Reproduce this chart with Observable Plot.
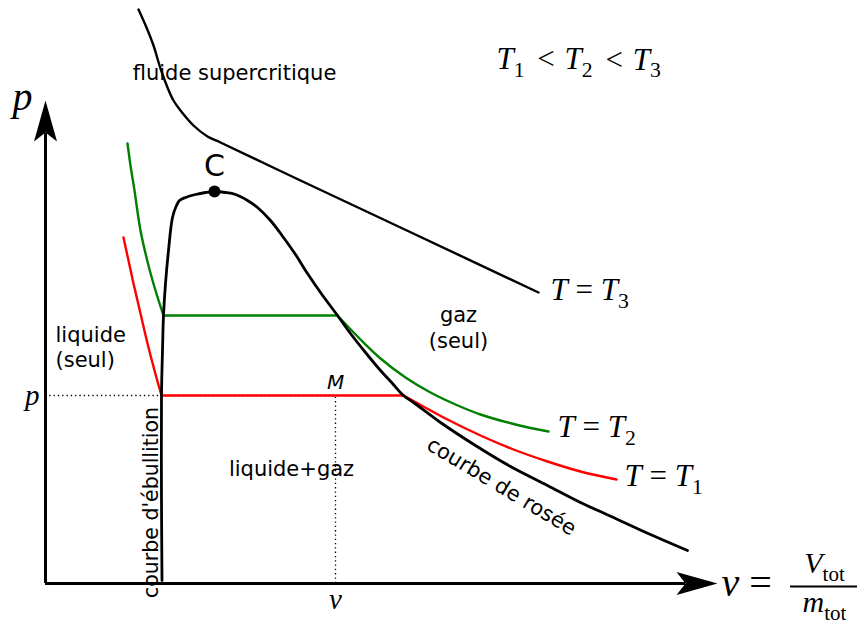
<!DOCTYPE html>
<html><head><meta charset="utf-8">
<script src="https://cdn.jsdelivr.net/npm/d3@7"></script>
<script src="https://cdn.jsdelivr.net/npm/@observablehq/plot@0.6"></script>
<style>body{margin:0;background:#fff}</style>
</head><body><div id="chart"></div>
<script>
// ---- data: points [v, p] in arbitrary units ----
const saturationCurve = [[11.65,0.3],[11.6,8.3],[11.6,18.8],[11.7,23.3],[11.8,26.8],[12.0,30.0],[12.3,33.3],[12.7,36.6],[13.1,37.8],[13.4,38.3],[14.0,38.6],[15.0,38.9],[16.0,39.1],[16.9,39.2],
  [18.0,39.1],[19.0,38.9],[20.2,38.3],[21.2,37.6],[22.5,36.3],[23.8,34.6],[25.0,32.9],[26.2,31.0],[27.5,29.1],[29.2,26.8],[30.5,25.0],[32.0,23.1],[33.5,21.3],[34.7,20.0],[35.8,18.8],
  [36.8,18.1],[39.5,16.1],[43.0,13.8],[46.5,11.7],[50.2,9.8],[53.5,8.1],[56.8,6.6],[60.5,4.9],[64.2,3.3]];

const T1_liquid = [[7.8,34.6],[8.3,32.3],[8.8,30.0],[9.5,27.0],[10.2,24.0],[10.9,21.3],[11.6,18.8]];
const T1_plateau = [[11.6,18.8],[35.8,18.8]];
const T1_gas = [[35.8,18.8],[36.8,18.25],[40.2,16.4],[43.5,14.8],[46.8,13.4],[50.2,12.2],[53.5,11.2],[57.1,10.4]];

const T2_liquid = [[8.2,44.0],[8.5,41.8],[8.9,39.3],[9.5,35.3],[10.3,31.8],[11.0,29.3],[11.8,26.8]];
const T2_plateau = [[11.8,26.8],[29.2,26.8]];
const T2_gas = [[29.2,26.8],[31.5,24.4],[33.5,22.5],[36.0,20.6],[38.5,19.1],[41.0,17.9],[43.5,16.9],[47.0,15.9],[50.3,15.2]];

const T3_curve = [[9.3,57.4],[10.1,55.6],[10.8,53.8],[11.5,51.5],[12.2,49.6],[12.8,48.3],[13.5,47.3],[14.8,45.8],[16.2,44.7],[17.5,44.1],[25.5,40.3],[35.5,35.6],[49.3,29.1]];

const criticalPoint = [[16.9,39.2]];
const pointM = {v:29.0, p:18.8};

// ---- labels ----
const centeredLabels = [
  {v:18.9, p:51.0, t:"fluide supercritique"},
  {v:41.3, p:26.8, t:"gaz"},
  {v:41.3, p:24.2, t:"(seul)"},
  {v:24.6, p:11.4, t:"liquide+gaz"}
];
const startLabels = [
  {v:1.0, p:24.8, t:"liquide"},
  {v:1.0, p:22.3, t:"(seul)"}
];
const mathLabels = [
  {v:50.5, p:29.3, t:"T = T_3"},
  {v:51.2, p:15.6, t:"T = T_2"},
  {v:57.9, p:10.7, t:"T = T_1"},
  {v:45.1, p:52.4, t:"T_1 < T_2 < T_3"}
];

const xy = {x: d => d[0], y: d => d[1]};
const stealth = {draw(ctx) { ctx.moveTo(0,0); ctx.lineTo(-11.5,41); ctx.lineTo(0,32); ctx.lineTo(11.5,41); ctx.closePath(); }};

const svg = Plot.plot({
  width: 867, height: 623,
  marginLeft: 0, marginRight: 0, marginTop: 0, marginBottom: 0,
  x: {domain: [0, 67.2], range: [45, 717], axis: null},
  y: {domain: [0, 48.3], range: [583, 100], axis: null},
  style: {background: "white", overflow: "visible", fontFamily: "DejaVu Sans"},
  marks: [
    // dotted guides for M
    Plot.ruleY([pointM.p], {x1: 0, x2: pointM.v, stroke: "black", strokeWidth: 1.3, strokeDasharray: "1.3,3"}),
    Plot.ruleX([pointM.v], {y1: 0, y2: pointM.p, stroke: "black", strokeWidth: 1.3, strokeDasharray: "1.3,3"}),
    // axes
    Plot.ruleX([0], {y1: 0, y2: 45, stroke: "black", strokeWidth: 3}),
    Plot.ruleY([0], {x1: 0, x2: 64, stroke: "black", strokeWidth: 3}),
    Plot.dot([[0, 48.3]], {...xy, symbol: stealth, fill: "black", stroke: null}),
    Plot.dot([[67.2, 0]], {...xy, symbol: stealth, fill: "black", stroke: null, rotate: 90}),
    // isotherms
    Plot.line(T3_curve, {...xy, curve: "catmull-rom", stroke: "black", strokeWidth: 2.4}),
    Plot.line(T2_liquid, {...xy, curve: "catmull-rom", stroke: "green", strokeWidth: 2.4}),
    Plot.line(T2_plateau, {...xy, stroke: "green", strokeWidth: 2.4}),
    Plot.line(T2_gas, {...xy, curve: "catmull-rom", stroke: "green", strokeWidth: 2.4}),
    Plot.line(T1_liquid, {...xy, curve: "catmull-rom", stroke: "red", strokeWidth: 2.4}),
    Plot.line(T1_plateau, {...xy, stroke: "red", strokeWidth: 2.4}),
    Plot.line(T1_gas, {...xy, curve: "catmull-rom", stroke: "red", strokeWidth: 2.4}),
    // saturation dome
    Plot.line(saturationCurve, {...xy, curve: "catmull-rom", stroke: "black", strokeWidth: 2.8}),
    Plot.dot(criticalPoint, {...xy, r: 6, fill: "black"}),
    // sans labels
    Plot.text(centeredLabels, {x: "v", y: "p", text: "t", fontSize: 21, fill: "black"}),
    Plot.text(startLabels, {x: "v", y: "p", text: "t", fontSize: 21, textAnchor: "start", fill: "black"}),
    Plot.text(criticalPoint, {...xy, text: () => "C", dy: -25, fontSize: 30, fill: "black"}),
    Plot.text([pointM], {x: "v", y: "p", text: () => "M", dy: -13, fontSize: 20, fontStyle: "italic", fill: "black"}),
    Plot.text([{v: 10.6, p: 8.1}], {x: "v", y: "p", text: () => "courbe d'ébullition", rotate: -90, fontSize: 20.5, fill: "black"}),
    Plot.text([{v: 45.6, p: 9.7}], {x: "v", y: "p", text: () => "courbe de rosée", rotate: 31, fontSize: 21, fill: "black"}),
    // math labels
    Plot.text(mathLabels, {x: "v", y: "p", text: "t", textAnchor: "start", fontSize: 31, fontFamily: "Liberation Serif", fill: "black"}),
    Plot.text([{v: -2.3, p: 48.6}], {x: "v", y: "p", text: () => "p", fontSize: 40, fontFamily: "Liberation Serif", fill: "black"}),
    Plot.text([{v: -0.6, p: pointM.p}], {x: "v", y: "p", text: () => "p", textAnchor: "end", fontSize: 29, fontFamily: "Liberation Serif", fill: "black"}),
    Plot.text([{v: pointM.v, p: -1.6}], {x: "v", y: "p", text: () => "v", fontSize: 29, fontFamily: "Liberation Serif", fill: "black"}),
    Plot.text([{v: 67.6, p: 0}], {x: "v", y: "p", text: () => "v =", textAnchor: "start", fontSize: 40, fontFamily: "Liberation Serif", fill: "black"}),
    Plot.text([{v: 77.9, p: 2.0}], {x: "v", y: "p", text: () => "V_{tot}", fontSize: 30, fontFamily: "Liberation Serif", fill: "black"}),
    Plot.text([{v: 77.9, p: -1.9}], {x: "v", y: "p", text: () => "m_{tot}", fontSize: 30, fontFamily: "Liberation Serif", fill: "black"}),
    Plot.ruleY([-0.3], {x1: 74.5, x2: 81.2, stroke: "black", strokeWidth: 2})
  ]
});

// typeset math-like text: italic letters, upright symbols, subscripts
const NS = "http://www.w3.org/2000/svg";
svg.querySelectorAll("text").forEach(el => {
  const g = el.closest("g");
  const fam = (g && g.getAttribute("font-family")) || "";
  if (!fam.includes("Liberation Serif")) return;
  const s = el.textContent;
  el.textContent = "";
  const re = /_\{([^}]*)\}|_(.)|([^_]+)/g;
  let m, shifted = false;
  while ((m = re.exec(s))) {
    if (m[3] !== undefined) {
      const parts = m[3].match(/[A-Za-z]+|<|[^A-Za-z<]+/g) || [];
      parts.forEach(part => {
        const t = document.createElementNS(NS, "tspan");
        t.textContent = part;
        t.setAttribute("font-style", /[A-Za-z]/.test(part) ? "italic" : "normal");
        if (part === "<") { t.setAttribute("dx", "5"); t.setAttribute("letter-spacing", "2px"); }
        if (shifted) { t.setAttribute("dy", "-0.25em"); shifted = false; }
        el.appendChild(t);
      });
    } else {
      const sub = m[1] !== undefined ? m[1] : m[2];
      const t = document.createElementNS(NS, "tspan");
      t.textContent = sub;
      t.setAttribute("font-style", "normal");
      t.setAttribute("font-size", "70%");
      t.setAttribute("dy", "0.36em");
      shifted = true;
      el.appendChild(t);
    }
  }
});

document.getElementById("chart").appendChild(svg);
</script>
</body></html>
